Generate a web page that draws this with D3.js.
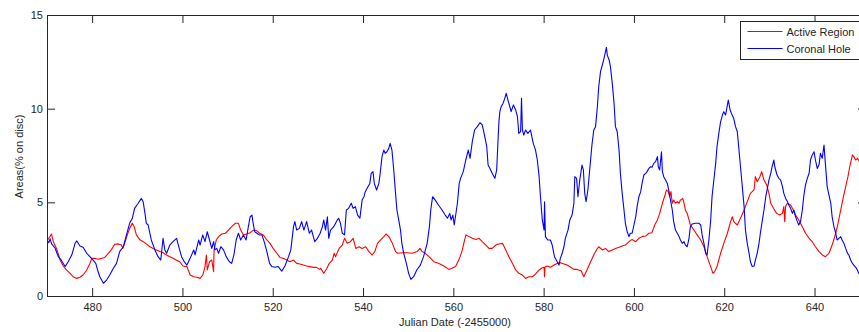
<!DOCTYPE html>
<html>
<head>
<meta charset="utf-8">
<script src="https://cdn.jsdelivr.net/npm/d3@7"></script>
<style>
  body { margin: 0; background: #fff; }
  svg text { font-family: "Liberation Sans", Arial, sans-serif; fill: #262626; }
</style>
</head>
<body>
<svg id="chart" width="859" height="332"></svg>
<script>
// Active Region areas (% on disc), days are Julian Date - 2455000
let arDay = [470.0,470.4,471.0,471.4,472.1,472.9,473.6,474.3,475.1,475.8,476.6,477.3,478.0,478.8,479.5,479.9,480.6,481.3,482.1,482.8,483.6,484.3,485.0,485.8,486.5,486.8,487.2,487.8,488.3,488.9,489.3,489.8,490.5,491.3,492.0,492.8,493.5,494.2,495.0,495.7,496.5,497.2,497.9,498.6,499.4,500.1,
  501.0,501.7,502.5,503.2,503.9,504.5,505.0,505.3,505.5,506.0,506.5,506.9,507.0,507.5,508.0,508.7,509.5,510.2,510.9,511.7,512.4,512.9,513.5,514.2,515.0,515.7,516.4,517.1,517.9,518.7,519.4,520.1,520.9,521.6,522.3,523.1,523.8,524.6,525.3,526.0,526.8,527.5,528.2,529.0,529.7,530.4,
  530.6,531.3,532.0,532.5,533.2,533.6,533.9,534.7,535.4,535.9,536.5,537.2,537.8,538.4,539.1,539.8,540.6,541.3,542.0,542.6,543.2,543.9,544.6,545.1,545.7,546.5,547.2,547.7,548.7,549.8,550.9,552.0,552.6,553.1,553.8,554.6,555.7,556.8,557.9,559.0,559.7,560.5,561.2,
  561.5,562.0,562.4,562.8,563.5,564.2,565.0,565.7,566.4,567.2,567.9,568.6,569.4,570.1,570.9,571.6,572.3,573.1,573.8,574.5,575.3,576.0,576.7,577.5,578.2,579.0,579.7,580.1,580.2,580.3,580.8,581.5,582.3,583.0,583.7,584.5,585.2,586.0,586.7,587.4,588.3,588.9,589.6,590.4,591.1,591.7,
  592.2,593.0,593.7,594.4,595.2,595.9,596.7,597.4,598.1,598.9,599.6,600.4,601.1,601.8,602.6,603.3,604.0,604.6,605.2,605.7,606.3,606.9,607.2,607.6,607.9,608.2,608.5,608.8,609.2,609.6,610.0,610.3,610.8,611.1,611.4,611.8,612.2,612.5,613.3,614.0,614.8,615.5,616.2,617.0,617.5,617.9,618.4,619.2,619.9,620.7,621.4,621.8,
  622.1,622.9,623.6,624.4,625.1,625.8,626.6,626.9,627.3,627.9,628.3,628.8,629.4,629.9,630.3,630.9,631.6,632.3,632.9,633.2,633.4,633.6,634.0,634.7,635.3,635.8,636.5,637.3,638.0,638.8,639.5,640.2,641.0,641.7,642.4,643.2,643.9,644.7,645.2,645.8,646.4,646.9,647.4,647.8,648.4,648.7,649.1,649.5,650.0,651.0];
let arArea = [2.95,3.08,3.31,2.9,2.54,1.92,1.6,1.39,1.21,1.03,0.94,1.0,1.12,1.39,1.74,2.01,2.01,1.96,2.01,2.06,2.28,2.49,2.76,2.78,2.72,2.54,2.81,3.26,3.61,3.88,3.7,3.26,3.02,2.9,2.78,2.63,2.54,2.46,2.37,2.31,2.19,2.1,2.01,1.92,1.83,1.6,
  1.57,1.12,1.03,1.0,0.94,1.12,1.57,2.19,1.39,1.83,1.92,1.3,2.46,2.99,3.17,3.31,3.35,3.52,3.7,3.88,3.88,3.52,3.26,3.31,3.38,3.52,3.49,3.35,3.26,2.99,2.81,2.54,2.28,2.06,2.01,1.92,1.83,1.92,1.74,1.71,1.65,1.6,1.57,1.53,1.53,1.42,
  1.48,1.21,1.48,1.74,1.92,2.28,2.1,2.54,2.72,3.08,2.81,2.9,3.08,2.54,2.63,2.54,2.63,2.37,2.19,2.37,2.81,2.99,3.17,3.31,3.17,2.81,2.37,2.28,2.31,2.31,2.28,2.37,2.54,2.37,2.28,2.1,1.83,1.74,1.6,1.42,1.48,1.57,1.92,
  2.1,2.46,2.9,3.26,3.17,3.08,3.02,3.08,2.9,2.72,2.54,2.54,2.72,2.78,2.81,2.46,2.1,1.74,1.39,1.21,1.12,0.94,1.03,1.03,1.17,1.39,1.51,1.53,1.03,1.55,1.6,1.53,1.65,1.74,1.78,1.71,1.65,1.53,1.42,1.42,1.35,1.03,1.39,1.83,2.19,2.46,
  2.63,2.46,2.54,2.37,2.46,2.54,2.6,2.67,2.72,2.9,3.02,2.9,3.08,3.17,3.2,3.35,3.38,3.79,4.06,4.41,4.95,5.39,5.66,5.57,5.3,5.57,4.95,5.12,4.95,5.04,4.95,5.12,5.21,4.95,4.59,4.41,4.06,3.79,3.52,3.26,2.99,2.63,2.1,1.57,1.21,1.3,1.57,2.28,2.81,3.35,3.97,4.23,
  3.97,3.79,4.15,4.59,5.04,5.48,5.66,6.37,6.1,6.37,6.64,6.19,5.93,5.48,4.95,4.68,4.41,4.32,4.41,4.77,3.97,4.8,4.95,4.86,4.59,4.32,4.06,3.7,3.35,3.08,2.9,2.63,2.37,2.19,2.1,2.28,2.72,3.35,3.88,4.59,5.3,5.84,6.37,6.9,7.53,7.44,7.26,7.35,7.17,7.3];

// Coronal Hole areas (% on disc)
let chDay = [470.0,470.4,470.7,471.0,471.8,472.5,473.2,474.0,474.7,475.5,476.2,476.6,477.3,478.0,478.8,479.5,480.2,480.8,481.2,481.7,482.5,483.2,483.9,484.7,485.4,486.1,486.9,487.6,488.3,488.9,489.4,490.2,490.9,491.3,491.7,492.0,492.4,493.1,493.9,494.6,495.2,495.7,496.1,496.5,497.2,497.9,498.7,499.0,499.8,500.4,
  501.0,501.7,502.5,502.8,503.6,503.9,504.5,505.0,505.5,506.0,506.5,506.9,507.2,507.6,508.0,508.5,509.1,509.7,510.4,510.9,511.4,511.9,512.4,512.9,513.5,514.1,514.6,515.0,515.4,515.6,516.0,516.5,517.0,517.6,518.1,518.7,519.3,519.8,520.5,521.2,522.0,522.7,523.5,524.0,524.6,524.9,525.3,525.9,526.4,526.9,527.5,528.1,528.6,529.3,529.9,530.5,
  531.0,531.3,531.7,532.1,532.4,532.8,533.5,534.3,534.6,535.0,535.4,535.9,536.3,536.8,537.4,537.8,538.3,538.8,539.3,539.8,540.2,540.5,540.9,541.5,541.8,542.2,542.5,543.0,543.5,543.8,544.2,544.6,544.9,545.3,545.7,546.0,546.4,546.8,547.2,547.5,547.9,548.3,548.6,549.0,549.6,550.1,550.6,551.2,551.9,552.7,553.4,554.2,554.7,555.0,555.4,556.0,556.7,557.5,558.2,558.7,559.2,559.5,559.9,560.2,560.9,
  561.3,561.6,562.2,562.75,563.3,563.7,564.2,564.7,565.3,565.9,566.4,566.9,567.4,567.7,568.1,568.6,569.2,569.6,569.9,570.1,570.3,570.6,571.0,571.4,571.7,572.1,572.5,572.8,573.3,573.8,574.2,574.5,574.9,575.1,575.3,575.6,576.0,576.5,577.1,577.7,578.2,578.6,579.0,579.3,579.7,580.1,580.2,580.4,580.9,581.5,581.9,582.4,583.0,583.4,583.7,584.1,584.5,584.8,585.4,585.8,586.3,586.7,586.9,587.3,587.6,588.0,588.5,588.8,589.1,589.4,589.8,590.2,590.7,591.1,
  591.5,591.9,592.2,592.6,593.0,593.3,593.7,593.9,594.1,594.5,594.8,595.2,595.6,595.9,596.3,596.7,597.0,597.4,597.8,598.1,598.5,598.9,599.2,599.6,600.0,600.4,600.7,601.1,601.5,601.8,602.2,602.6,602.9,603.3,603.7,604.0,604.4,604.8,605.2,605.4,605.7,606.1,606.3,606.6,607.0,607.4,607.7,608.1,608.5,608.8,609.2,609.6,610.0,610.3,610.7,611.1,611.4,611.8,612.2,612.5,612.9,613.6,614.4,614.8,615.1,615.5,615.9,616.2,616.6,617.0,617.3,617.7,618.1,618.4,618.8,619.2,619.6,619.9,620.3,620.7,620.9,621.3,621.6,
  622.1,622.5,622.9,623.2,623.6,624.0,624.4,624.7,625.1,625.5,625.8,626.2,626.6,626.9,627.3,627.7,628.0,628.4,628.8,629.2,629.5,629.9,630.3,630.6,631.0,631.2,631.7,632.1,632.5,632.9,633.2,633.6,634.0,634.3,634.7,635.1,635.4,635.8,636.2,636.5,636.9,637.3,637.6,638.0,638.4,638.8,639.1,639.5,639.9,640.2,640.6,641.0,641.3,641.7,642.1,642.4,642.8,643.2,643.6,643.9,644.3,644.7,645.0,645.4,645.8,646.1,646.5,646.9,647.3,647.6,648.0,648.4,648.7,649.3,649.8,650.5];
let chArea = [3.0,2.85,3.05,2.8,2.55,2.1,1.9,1.57,1.83,2.2,2.8,2.94,2.67,2.6,2.28,2.1,1.92,1.74,1.39,1.03,0.68,0.85,1.12,1.48,1.74,2.37,2.63,3.26,3.88,4.15,4.68,4.95,5.21,5.03,4.41,3.88,3.79,2.99,2.46,2.1,1.92,3.08,2.46,2.28,2.72,2.9,3.08,2.8,2.1,1.83,
  1.65,2.01,2.46,2.19,2.99,2.72,3.26,2.9,3.43,2.99,2.54,2.9,2.46,2.54,2.28,2.63,2.46,2.1,1.83,1.74,2.19,2.99,3.35,2.99,3.26,2.99,3.7,4.23,4.32,3.97,3.43,3.35,3.26,3.26,2.9,2.37,1.74,1.57,1.53,1.57,1.33,1.6,2.1,2.46,3.7,3.97,3.52,3.61,3.97,3.52,3.97,3.35,3.52,2.9,3.08,3.35,
  3.7,4.06,3.52,4.23,3.08,3.52,3.7,4.06,4.15,3.88,3.35,3.26,4.59,4.68,4.95,4.68,4.77,4.32,4.15,5.12,5.3,5.57,5.75,6.01,6.55,6.64,6.01,5.66,6.01,6.55,7.44,7.79,7.62,7.7,7.88,8.15,7.79,6.73,5.48,4.59,4.06,3.52,2.81,2.28,1.74,1.21,0.89,1.03,1.39,1.65,2.1,2.81,3.7,4.59,5.3,5.12,4.86,4.59,4.32,4.15,4.41,4.06,4.32,3.79,4.95,
  6.01,6.28,6.64,7.26,7.79,7.35,8.24,8.86,9.04,9.25,9.13,8.59,7.97,6.99,6.81,6.55,6.28,6.73,8.33,9.31,9.84,10.11,10.28,10.55,10.82,10.46,10.11,9.84,10.2,9.93,9.57,8.68,8.77,10.55,8.86,8.59,8.86,8.68,8.86,8.15,7.79,7.26,6.37,5.3,4.06,3.52,5.03,3.17,2.99,2.99,2.72,2.1,1.83,1.65,2.01,2.28,2.63,3.08,3.52,4.06,4.32,4.95,6.37,6.28,5.3,6.19,6.99,6.73,5.48,5.03,5.66,6.73,8.06,8.86,
  9.04,10.1,11.17,11.98,12.33,12.6,13.04,13.27,12.86,12.6,12.24,11.35,10.28,9.04,8.77,7.79,6.55,5.48,4.59,3.88,3.43,3.17,3.35,3.35,3.79,4.23,4.77,5.3,5.57,6.01,6.46,6.55,6.64,6.81,6.9,6.87,7.08,7.17,7.44,6.9,6.73,7.7,6.64,6.37,6.19,6.01,5.66,5.12,4.59,3.97,3.52,3.35,3.17,2.99,2.81,2.9,2.72,2.63,3.08,3.7,3.84,3.88,3.88,3.79,3.26,2.81,2.28,2.19,2.99,4.06,5.3,6.19,7.08,7.97,8.68,9.31,9.66,9.84,9.66,10.2,10.46,9.93,9.75,
  9.48,9.04,8.77,7.97,6.9,5.84,4.77,3.52,2.81,2.28,1.83,1.57,1.6,1.92,2.28,2.81,3.35,3.97,4.59,5.3,5.66,6.19,6.55,6.9,7.26,6.9,6.46,6.28,6.19,5.84,5.48,5.21,5.04,4.86,4.68,4.41,4.59,4.23,3.97,3.79,3.97,4.59,5.3,5.93,6.28,6.55,7.26,7.53,7.7,7.26,6.81,7.0,7.62,7.35,8.06,7.08,5.84,5.39,4.95,4.23,3.7,3.35,2.99,3.08,3.17,2.99,2.81,2.54,2.28,2.19,1.92,1.74,1.65,1.48,1.21,1.1];

let xTicks = [480, 500, 520, 540, 560, 580, 600, 620, 640];
let yTicks = [0, 5, 10, 15];
let seriesNames = ["Active Region", "Coronal Hole"];
let seriesColors = ["#ff0000", "#0000ff"];

if (arDay.length !== arArea.length || chDay.length !== chArea.length) {
  throw new Error("length mismatch " + arDay.length + "/" + arArea.length + " " + chDay.length + "/" + chArea.length);
}

let svg = d3.select("#chart");
let mLeft = 47, mRight = 866, mTop = 15, mBottom = 296;

let x = d3.scaleLinear().domain([470, 651.4]).range([mLeft, mRight]);
let y = d3.scaleLinear().domain([0, 15]).range([mBottom, mTop]);

svg.append("defs").append("clipPath").attr("id", "plotClip")
  .append("rect").attr("x", mLeft).attr("y", mTop)
  .attr("width", mRight - mLeft).attr("height", mBottom - mTop);

let line = d3.line().x(d => x(d[0])).y(d => y(d[1]));

let series = [
  d3.zip(arDay, arArea),
  d3.zip(chDay, chArea)
];

svg.append("g").attr("clip-path", "url(#plotClip)")
  .selectAll("path").data(series).join("path")
  .attr("d", line)
  .attr("fill", "none")
  .attr("stroke", (d, i) => seriesColors[i])
  .attr("stroke-width", 1.1)
  .attr("stroke-linejoin", "round");

// axes: ticks point inwards, box all round
function styleAxis(g) {
  g.selectAll("path, line").attr("stroke", "#262626");
  g.selectAll("text").attr("font-size", 11).attr("fill", "#262626")
    .attr("font-family", "Liberation Sans, Arial, sans-serif");
}

svg.append("g").attr("transform", "translate(0," + mBottom + ")")
  .call(d3.axisBottom(x).tickValues(xTicks).tickSizeInner(-8).tickSizeOuter(0).tickPadding(7))
  .call(styleAxis);
svg.append("g").attr("transform", "translate(0," + mTop + ")")
  .call(d3.axisTop(x).tickValues(xTicks).tickSizeInner(-8).tickSizeOuter(0).tickFormat(""))
  .call(styleAxis);
svg.append("g").attr("transform", "translate(" + mLeft + ",0)")
  .call(d3.axisLeft(y).tickValues(yTicks).tickSizeInner(-8).tickSizeOuter(0).tickPadding(4))
  .call(styleAxis);
svg.append("g").attr("transform", "translate(" + mRight + ",0)")
  .call(d3.axisRight(y).tickValues(yTicks).tickSizeInner(-8).tickSizeOuter(0).tickFormat(""))
  .call(styleAxis);

// axis titles
svg.append("text")
  .attr("x", 455).attr("y", 326)
  .attr("text-anchor", "middle").attr("font-size", 11)
  .text("Julian Date (-2455000)");
svg.append("text")
  .attr("transform", "translate(23,156.5) rotate(-90)")
  .attr("text-anchor", "middle").attr("font-size", 11)
  .text("Areas(% on disc)");

// legend
let legend = svg.append("g").attr("transform", "translate(740.5,21.5)");
legend.append("rect")
  .attr("width", 140).attr("height", 38)
  .attr("fill", "#fff").attr("stroke", "#262626");
legend.selectAll("line").data(seriesNames).join("line")
  .attr("x1", 7).attr("x2", 42)
  .attr("y1", (d, i) => 10 + 17 * i).attr("y2", (d, i) => 10 + 17 * i)
  .attr("stroke", (d, i) => seriesColors[i]);
legend.selectAll("text").data(seriesNames).join("text")
  .attr("x", 46).attr("y", (d, i) => 14.5 + 17 * i)
  .attr("font-size", 11)
  .text(d => d);
</script>
</body>
</html>
